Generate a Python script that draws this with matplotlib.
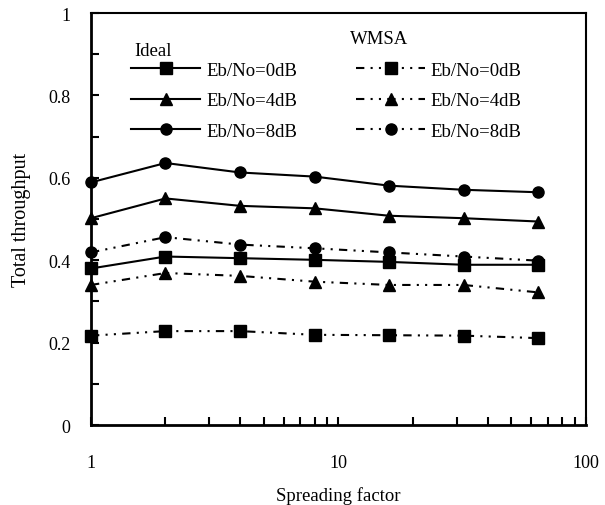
import matplotlib.pyplot as plt
import numpy as np
from matplotlib.ticker import FixedLocator, NullFormatter, LogLocator

plt.rcParams['font.family'] = ['Liberation Serif', 'DejaVu Serif']

# spreading factors
sf = [1, 2, 4, 8, 16, 32, 64]

# total throughput
ideal_0db = [0.380, 0.409, 0.405, 0.401, 0.396, 0.389, 0.389]
ideal_4db = [0.502, 0.550, 0.532, 0.526, 0.508, 0.502, 0.494]
ideal_8db = [0.589, 0.636, 0.613, 0.603, 0.581, 0.571, 0.565]
wmsa_0db = [0.217, 0.228, 0.228, 0.219, 0.218, 0.217, 0.211]
wmsa_4db = [0.340, 0.369, 0.362, 0.348, 0.340, 0.340, 0.322]
wmsa_8db = [0.419, 0.456, 0.438, 0.429, 0.419, 0.409, 0.399]

labels = ['Eb/No=0dB', 'Eb/No=4dB', 'Eb/No=8dB']
markers = ['s', '^', 'o']
msizes = [9, 9, 8]

fig = plt.figure(figsize=(6.05, 5.06), dpi=100)
ax = fig.add_axes([0.1504, 0.158, 0.8182, 0.8143])

dashdotdot = (0, (4, 3, 1, 3, 1, 3))

ideal_lines = []
for ys, m, ms, lab in zip([ideal_0db, ideal_4db, ideal_8db], markers, msizes, labels):
    l, = ax.plot(sf, ys, color='black', lw=1.5, marker=m, ms=ms, label=lab, clip_on=False)
    ideal_lines.append(l)
wmsa_lines = []
for ys, m, ms, lab in zip([wmsa_0db, wmsa_4db, wmsa_8db], markers, msizes, labels):
    l, = ax.plot(sf, ys, color='black', lw=1.5, ls=dashdotdot, marker=m, ms=ms, label=lab, clip_on=False)
    wmsa_lines.append(l)

ax.set_xscale('log')
ax.set_xlim(1, 100)
ax.set_ylim(0, 1)

ax.yaxis.set_major_locator(FixedLocator([0, 0.2, 0.4, 0.6, 0.8, 1.0]))
ax.yaxis.set_minor_locator(FixedLocator([0.1, 0.3, 0.5, 0.7, 0.9]))
ax.set_yticklabels(['0', '0.2', '0.4', '0.6', '0.8', '1'])
ax.xaxis.set_major_locator(FixedLocator([1, 10, 100]))
ax.xaxis.set_minor_locator(LogLocator(base=10, subs=np.arange(2, 10)))
ax.xaxis.set_minor_formatter(NullFormatter())
ax.set_xticklabels(['1', '10', '100'])

ax.tick_params(which='both', direction='in', length=6, width=1.5, labelsize=13,
               top=False, right=False)
ax.tick_params(axis='x', which='major', pad=21)
ax.tick_params(axis='y', which='major', pad=15)
for s in ax.spines.values():
    s.set_linewidth(1.5)
ax.spines['left'].set_linewidth(2)
ax.spines['bottom'].set_linewidth(2)

ax.set_xlabel('Spreading factor', fontsize=13.5, labelpad=11)
ax.set_ylabel('Total throughput', fontsize=14.5, labelpad=12)

legkw = dict(frameon=False, fontsize=13.5, handlelength=3.7, handletextpad=0.3,
             labelspacing=0.71, borderaxespad=0, borderpad=0)
leg1 = ax.legend(handles=ideal_lines, loc='upper left', bbox_to_anchor=(0.081, 0.882), **legkw)
ax.add_artist(leg1)
ax.legend(handles=wmsa_lines, loc='upper left', bbox_to_anchor=(0.535, 0.882), **legkw)

ax.text(0.087, 0.910, 'Ideal', transform=ax.transAxes, fontsize=13.5, ha='left', va='center')
ax.text(0.523, 0.937, 'WMSA', transform=ax.transAxes, fontsize=13.5, ha='left', va='center')

fig.savefig('out.png', dpi=100)
